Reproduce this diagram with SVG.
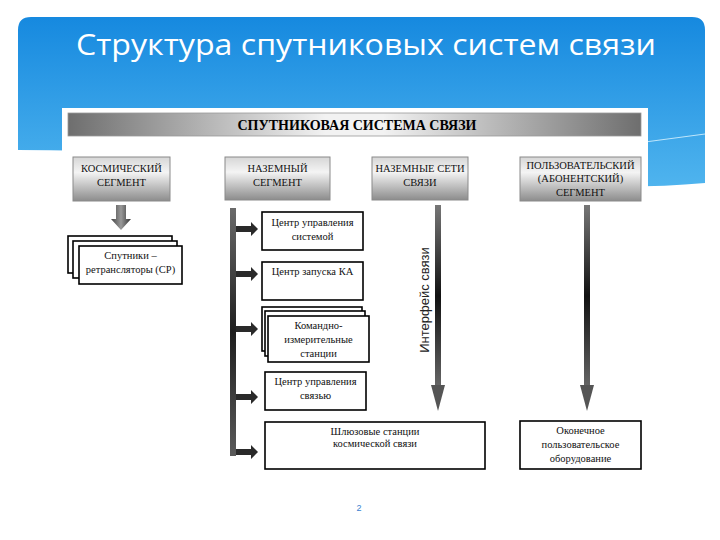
<svg xmlns="http://www.w3.org/2000/svg" width="720" height="540" viewBox="0 0 720 540">
<defs>
<linearGradient id="blue" x1="0" y1="0" x2="0" y2="1">
<stop offset="0" stop-color="#1689df"/>
<stop offset="1" stop-color="#4fb4ee"/>
</linearGradient>
<linearGradient id="bar" x1="0" y1="0" x2="1" y2="0">
<stop offset="0" stop-color="#6e6e6e"/>
<stop offset="0.45" stop-color="#f2f2f2"/>
<stop offset="0.55" stop-color="#f2f2f2"/>
<stop offset="1" stop-color="#6e6e6e"/>
</linearGradient>
<linearGradient id="seg" x1="0" y1="0" x2="0" y2="1">
<stop offset="0" stop-color="#d6d6d6"/>
<stop offset="0.35" stop-color="#f4f4f4"/>
<stop offset="1" stop-color="#8c8c8c"/>
</linearGradient>
<linearGradient id="vbar" x1="0" y1="0" x2="0" y2="1">
<stop offset="0" stop-color="#6a6a6a"/>
<stop offset="0.5" stop-color="#1e1e1e"/>
<stop offset="1" stop-color="#5a5a5a"/>
</linearGradient>
<linearGradient id="shaft" x1="0" y1="0" x2="0" y2="1">
<stop offset="0" stop-color="#777"/>
<stop offset="0.5" stop-color="#111"/>
<stop offset="1" stop-color="#666"/>
</linearGradient>
<linearGradient id="fat" x1="0" y1="0" x2="1" y2="0">
<stop offset="0" stop-color="#444"/>
<stop offset="0.5" stop-color="#999"/>
<stop offset="1" stop-color="#333"/>
</linearGradient>
<style>
.seg{fill:url(#seg);stroke:#8a8a8a;stroke-width:1}
.box{fill:#fff;stroke:#000;stroke-width:1.6}
.st{font-family:"Liberation Serif","DejaVu Serif",serif;font-size:10.5px;fill:#111;text-anchor:middle}
.bt{font-family:"Liberation Serif","DejaVu Serif",serif;font-size:10.5px;fill:#111;text-anchor:middle}
.harrow{fill:#2a2a2a}
</style>
</defs>
<rect x="0" y="0" width="720" height="540" fill="#fff"/>
<path d="M18,30 Q18,17 31,17 L692,17 Q705,17 705,30 L705,183 C520,200 330,150 18,150 Z" fill="url(#blue)"/>
<path d="M645,142 L705,134" stroke="#bfe6fb" stroke-width="1" fill="none"/>
<text x="76" y="55" font-family="'Open Sans','Noto Sans',sans-serif" font-size="30" fill="#fff" textLength="580" lengthAdjust="spacingAndGlyphs">Структура спутниковых систем связи</text>
<rect x="62" y="108" width="586" height="390" fill="#fff"/>

<g id="header">
<rect x="68" y="113" width="573" height="23" fill="url(#bar)" stroke="#999" stroke-width="0.8"/>
<text x="357" y="130" font-family="'Liberation Serif','DejaVu Serif',serif" font-size="14" font-weight="bold" text-anchor="middle" fill="#000">СПУТНИКОВАЯ СИСТЕМА СВЯЗИ</text>
</g>

<g id="seg-space">
<rect class="seg" x="73" y="157" width="97" height="44"/>
<text class="st" x="121.5" y="172">КОСМИЧЕСКИЙ</text>
<text class="st" x="121.5" y="186">СЕГМЕНТ</text>
</g>
<g id="seg-ground">
<rect class="seg" x="225" y="157" width="105" height="43"/>
<text class="st" x="277.5" y="172">НАЗЕМНЫЙ</text>
<text class="st" x="277.5" y="186">СЕГМЕНТ</text>
</g>
<g id="seg-networks">
<rect class="seg" x="372" y="157" width="96" height="43"/>
<text class="st" x="420" y="172">НАЗЕМНЫЕ СЕТИ</text>
<text class="st" x="420" y="186">СВЯЗИ</text>
</g>
<g id="seg-user">
<rect class="seg" x="520" y="157" width="121" height="44"/>
<text class="st" x="580.5" y="169">ПОЛЬЗОВАТЕЛЬСКИЙ</text>
<text class="st" x="580.5" y="182">(АБОНЕНТСКИЙ)</text>
<text class="st" x="580.5" y="196">СЕГМЕНТ</text>
</g>

<g id="satellites">
<rect class="box" x="68" y="236" width="104" height="37"/>
<rect class="box" x="73" y="241" width="104" height="37"/>
<rect class="box" x="79" y="246" width="103" height="38"/>
<text class="bt" x="130.5" y="259">Спутники –</text>
<text class="bt" x="130.5" y="273">ретрансляторы (СР)</text>
</g>

<g id="cus">
<rect class="box" x="262" y="212" width="101" height="38"/>
<text class="bt" x="312.5" y="226">Центр управления</text>
<text class="bt" x="312.5" y="240">системой</text>
</g>
<g id="launch">
<rect class="box" x="262" y="262" width="101" height="38"/>
<text class="bt" x="312.5" y="275">Центр запуска КА</text>
</g>
<g id="kis">
<rect class="box" x="262" y="307" width="100" height="44"/>
<rect class="box" x="265" y="311" width="100" height="45"/>
<rect class="box" x="268" y="316" width="101" height="46"/>
<text class="bt" x="318.5" y="329">Командно-</text>
<text class="bt" x="318.5" y="343">измерительные</text>
<text class="bt" x="318.5" y="357">станции</text>
</g>
<g id="cuc">
<rect class="box" x="265" y="372" width="101" height="38"/>
<text class="bt" x="315.5" y="385">Центр управления</text>
<text class="bt" x="315.5" y="399">связью</text>
</g>
<g id="gateway">
<rect class="box" x="265" y="422" width="220" height="47"/>
<text class="bt" x="375" y="435">Шлюзовые  станции</text>
<text class="bt" x="375" y="447">космической связи</text>
</g>
<g id="terminal">
<rect class="box" x="520" y="421" width="121" height="48"/>
<text class="bt" x="580.5" y="434">Оконечное</text>
<text class="bt" x="580.5" y="448">пользовательское</text>
<text class="bt" x="580.5" y="462">оборудование</text>
</g>

<g id="connectors">
<path d="M116,205 H126 V219 H131 L121,230 L111,219 H116 Z" fill="url(#fat)"/>
<rect x="230" y="208" width="6" height="248" fill="url(#vbar)"/>
<path class="harrow" d="M236,226 H251 V222 L258,229 L251,236 V232 H236 Z"/>
<path class="harrow" d="M236,271 H251 V267 L258,274 L251,281 V277 H236 Z"/>
<path class="harrow" d="M236,326 H251 V322 L258,329 L251,336 V332 H236 Z"/>
<path class="harrow" d="M236,394 H251 V390 L258,397 L251,404 V400 H236 Z"/>
<path class="harrow" d="M236,449 H251 V445 L258,452 L251,459 V455 H236 Z"/>
<rect x="435" y="205" width="6" height="182" fill="url(#shaft)"/>
<path d="M431,385 H445 L438,411 Z" fill="#555"/>
<rect x="584" y="205" width="6" height="182" fill="url(#shaft)"/>
<path d="M580,385 H594 L587,411 Z" fill="#555"/>
<text x="0" y="0" transform="translate(429,300) rotate(-90)" font-family="'Liberation Sans',Arial,sans-serif" font-size="13" text-anchor="middle" fill="#222">Интерфейс связи</text>
</g>

<text x="359" y="511" font-family="'Liberation Sans',Arial,sans-serif" font-size="9" fill="#3a7fd0" text-anchor="middle">2</text>
</svg>
